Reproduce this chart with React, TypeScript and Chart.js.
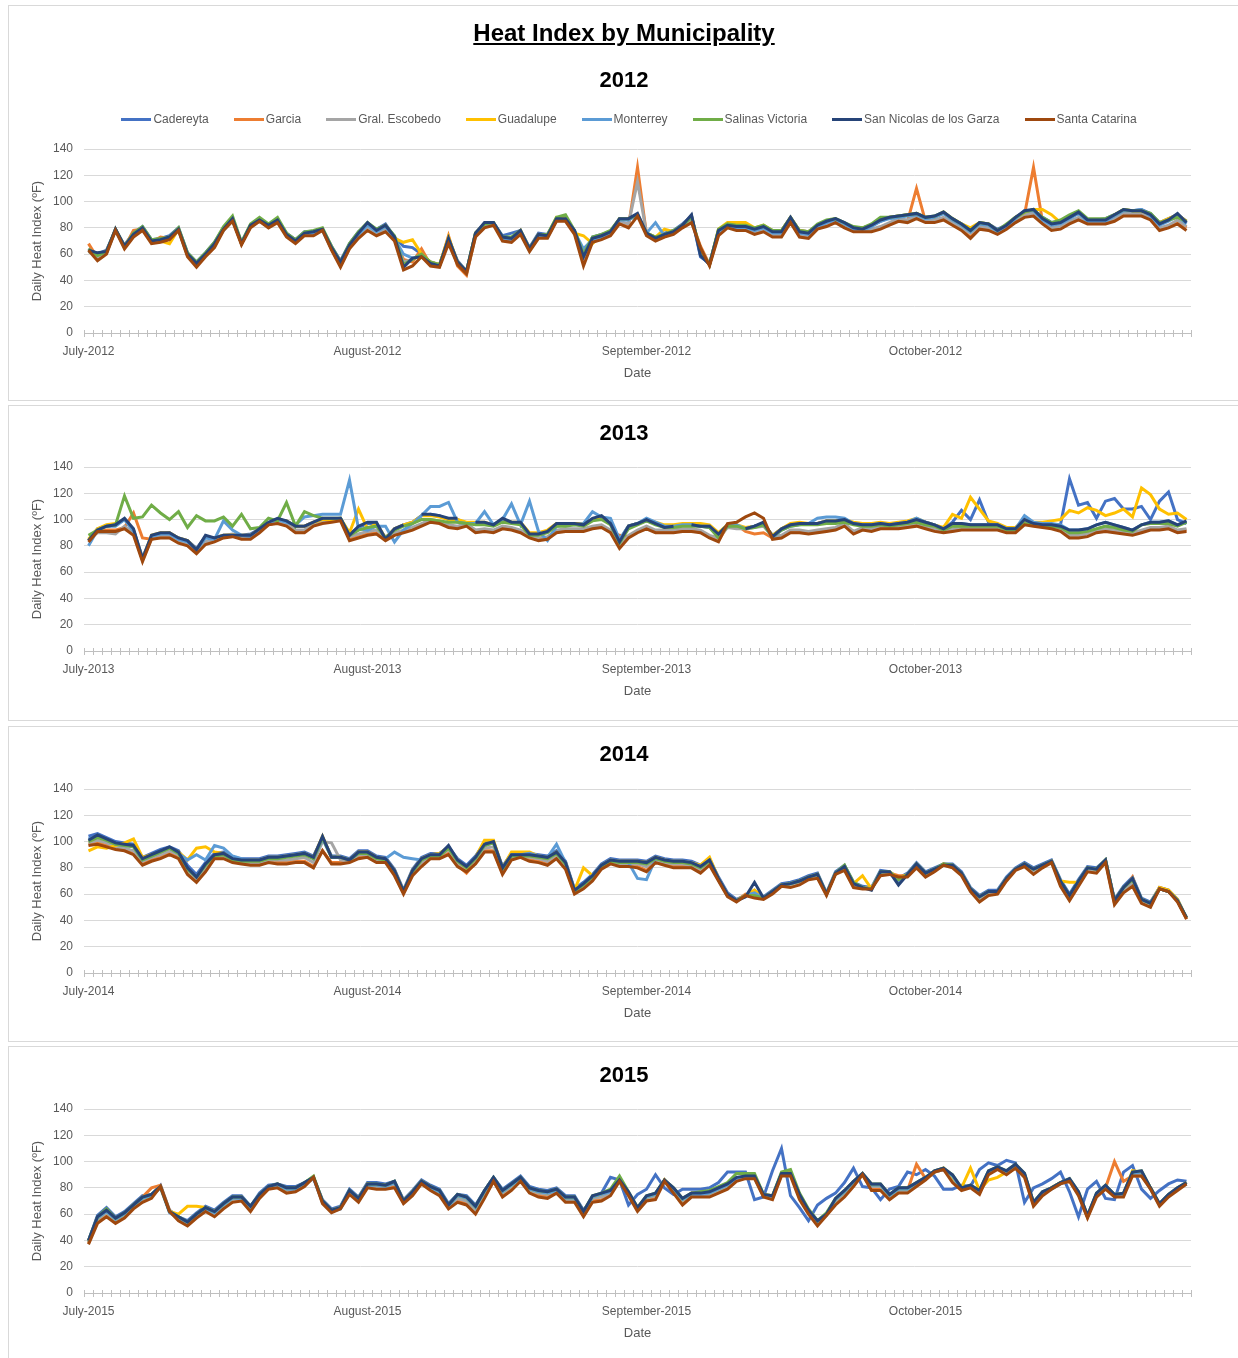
import React, { useEffect, useRef } from "react";
import { Chart, registerables } from "chart.js";

Chart.register(...registerables);

const FONT = "'Liberation Sans', Arial, sans-serif";
const TEXT_GRAY = "#595959";

const SERIES_NAMES = [
  "Cadereyta",
  "Garcia",
  "Gral. Escobedo",
  "Guadalupe",
  "Monterrey",
  "Salinas Victoria",
  "San Nicolas de los Garza",
  "Santa Catarina",
];
const SERIES_COLORS = ["#4472C4", "#ED7D31", "#A5A5A5", "#FFC000", "#5B9BD5", "#70AD47", "#264478", "#9E480E"];

const MONTHS = ["July", "August", "September", "October"];
const MONTH_DAYS = [31, 31, 30, 31];
const YEARS = [2012, 2013, 2014, 2015];
const Y_TICKS = { min: 0, max: 140, step: 20 };

// ---------- 2012 ----------
const CAD_2012 = [64,60,63,78,67,76,81,71,72,74, 80,61,54,61,69,80,87,69,82,86, 82,86,76,71,77,77,79,66,55,68, 77,83,79,83,73,66,65,60,54,52, 72,55,47,76,83,84,74,76,78,65, 76,75,87,86,78,60,73,75,77,87, 86,90,76,73,76,78,83,89,58,53, 78,83,82,82,80,81,78,78,88,78, 77,82,84,86,83,80,80,82,85,88, 89,90,90,88,88,91,86,83,79,83, 83,79,82,88,92,93,88,84,85,88, 91,86,86,87,90,93,93,94,91,84, 87,90,85];
const GAR_2012 = [68,57,61,79,65,78,79,69,73,72, 79,59,51,59,66,79,86,68,82,86, 81,85,74,69,75,75,79,64,51,65, 73,79,75,78,71,56,54,64,52,51, 74,51,44,74,81,83,71,70,76,63, 73,73,86,86,76,54,70,72,75,84, 81,126,75,71,74,76,81,85,66,52, 75,81,79,79,76,78,74,74,85,74, 73,80,82,85,81,79,78,78,80,83, 86,85,110,85,85,87,83,79,73,80, 79,76,80,85,90,126,85,80,80,84, 87,84,84,84,86,90,90,90,87,79, 81,84,80];
const GRE_2012 = [64,58,61,79,66,75,80,70,71,73, 79,60,52,60,67,79,86,68,81,86, 81,85,74,69,75,76,79,64,52,66, 74,80,76,79,72,54,56,60,53,52, 70,53,46,74,82,83,72,71,77,63, 74,73,86,86,77,56,71,73,76,85, 83,115,76,72,75,77,81,86,64,52, 76,81,80,80,77,79,75,75,86,75, 74,81,83,86,82,79,78,79,81,84, 87,86,89,86,86,88,84,80,76,81, 80,77,81,86,90,91,85,80,81,85, 88,85,85,85,87,91,91,91,88,80, 82,86,81];
const GUA_2012 = [62,60,62,78,66,75,80,70,70,68, 79,60,53,60,68,79,87,68,81,86, 82,85,75,70,76,77,79,65,54,67, 76,83,78,82,72,69,71,60,54,52, 73,54,47,76,83,84,72,72,78,64, 75,74,88,87,76,74,68,74,77,87, 87,90,76,73,79,77,82,89,62,52, 79,84,84,84,80,82,78,78,88,78, 77,82,85,87,83,80,80,82,86,88, 89,90,91,88,88,92,87,83,80,84, 83,78,82,88,92,94,94,90,84,88, 92,86,86,86,90,94,93,93,90,84, 87,90,85];
const MTY_2012 = [62,60,61,78,65,74,79,70,70,72, 78,59,53,59,67,78,86,68,81,85, 81,85,74,70,75,76,78,64,54,66, 75,82,77,81,72,60,57,59,53,51, 71,53,46,75,83,83,72,71,77,63, 74,73,86,86,77,64,71,73,76,86, 86,90,76,84,74,76,81,89,60,52, 77,81,80,80,78,80,76,76,87,76, 75,81,84,86,83,79,78,81,85,87, 88,89,90,87,88,91,86,82,77,83, 82,77,81,87,93,93,86,82,83,87, 91,85,85,85,89,93,93,94,89,82, 85,89,83];
const SAL_2012 = [64,59,62,79,66,76,81,71,72,73, 80,61,54,61,69,81,89,69,83,88, 83,88,76,71,77,78,80,66,54,68, 77,84,79,82,74,52,56,60,54,52, 71,54,47,76,83,84,73,73,78,64, 75,75,88,90,78,60,73,75,78,87, 87,90,76,73,75,78,82,88,63,52, 79,83,82,82,80,82,78,78,88,78, 77,83,86,87,84,81,80,83,88,88, 89,90,91,88,89,92,87,83,78,84, 83,78,83,88,92,94,88,84,86,90, 93,87,87,87,90,94,93,93,91,84, 86,88,85];
const SN_2012 = [63,61,62,79,66,75,80,70,71,73, 79,60,53,60,68,79,87,68,82,86, 82,86,75,70,76,77,79,65,54,67, 76,84,78,82,73,50,57,58,53,51, 72,54,47,76,84,84,73,72,78,64, 75,74,87,87,78,58,72,74,77,87, 87,91,76,72,75,77,82,90,59,52, 78,82,81,81,79,81,77,77,88,77, 76,82,85,87,84,80,79,82,86,88, 89,90,91,88,89,92,87,83,78,84, 83,78,82,88,93,94,87,83,84,88, 92,86,86,86,90,94,93,93,90,83, 86,91,84];
const SC_2012 = [63,55,60,78,64,73,78,68,69,71, 78,58,50,58,65,78,85,67,80,85, 80,84,73,68,74,74,78,63,50,64, 72,78,74,77,70,48,51,58,51,50, 68,52,45,73,80,82,70,69,75,62, 72,72,85,85,75,51,69,71,74,83, 80,89,74,70,73,75,80,84,65,51, 74,80,78,78,75,77,73,73,84,73, 72,79,81,84,80,77,77,77,79,82, 85,84,87,84,84,86,82,78,72,79, 78,75,79,84,88,89,83,78,79,83, 86,83,83,83,85,89,89,89,86,78, 80,83,78];

// ---------- 2013 ----------
const CAD_2013 = [84,93,95,96,100,92,71,87,89,90, 86,84,78,87,86,88,88,88,89,93, 97,100,99,95,95,98,100,100,101,89, 94,97,97,86,93,96,98,103,104,103, 100,100,97,97,97,96,100,98,97,89, 89,91,96,97,97,96,100,102,97,84, 95,97,99,97,94,95,96,96,95,94, 89,96,95,93,95,97,88,93,96,97, 97,97,99,99,100,97,96,96,97,96, 97,98,100,98,96,93,98,107,100,115, 98,96,93,93,100,97,96,96,96,131, 111,113,101,114,116,108,108,110,100,114, 121,100,97];
const GAR_2013 = [84,91,92,92,94,105,86,85,87,87, 83,81,75,82,84,87,88,86,86,91, 96,98,96,91,91,96,98,99,100,85, 87,89,90,85,89,91,93,96,99,98, 95,94,96,91,92,91,94,93,91,87, 85,86,91,92,92,92,94,95,91,88, 87,91,94,91,91,91,92,92,91,87, 84,95,96,91,89,90,86,87,91,91, 90,91,92,93,96,90,93,92,94,94, 94,95,96,94,92,91,92,93,93,93, 93,93,91,91,97,96,95,94,92,88, 88,89,91,92,91,90,89,91,93,93, 94,91,92];
const GRE_2013 = [85,90,90,89,95,90,69,86,88,88, 84,82,76,83,85,88,89,87,87,92, 97,99,97,92,92,97,99,100,101,87, 89,91,92,87,90,92,94,97,100,99, 96,95,97,92,93,92,95,94,92,88, 86,87,92,93,93,93,95,96,92,80, 88,92,95,92,92,92,93,93,92,88, 86,94,93,93,94,95,87,88,92,92, 91,92,93,94,97,91,94,93,95,95, 95,96,97,95,93,92,93,94,94,94, 94,94,92,92,98,97,96,95,93,88, 88,89,92,93,92,91,90,92,94,94, 95,92,93];
const GUA_2013 = [85,93,96,97,100,92,70,88,90,90, 86,84,77,87,86,88,88,88,88,93, 97,100,99,95,95,98,100,100,101,90, 108,93,97,86,93,96,98,103,103,102, 100,100,98,98,98,96,100,98,98,90, 90,92,97,97,97,97,100,102,97,84, 95,97,100,98,96,96,97,97,97,96, 90,96,96,94,95,97,88,93,97,98, 97,97,99,99,100,98,97,97,98,97, 98,99,101,98,96,94,104,101,117,108, 99,97,94,94,100,98,98,99,100,107, 105,109,107,103,105,108,102,124,119,108, 104,105,100];
const MTY_2013 = [80,92,95,95,100,91,70,87,89,89, 85,83,77,86,85,99,92,88,87,92, 97,100,98,96,102,103,104,104,104,130, 93,92,95,95,83,92,97,103,110,110, 113,98,97,97,106,96,100,112,96,114, 91,84,95,96,96,97,106,102,101,85, 95,97,101,98,95,95,96,96,95,95, 88,95,96,93,95,97,86,92,95,96, 97,101,102,102,101,97,96,96,97,96, 97,98,101,98,96,93,97,97,96,96, 96,96,93,93,103,98,97,97,96,92, 92,93,96,98,96,94,92,96,98,98, 99,96,98];
const SAL_2013 = [88,92,95,96,118,101,102,111,105,100, 106,94,103,99,99,102,95,104,93,94, 101,99,113,95,106,103,101,101,101,88, 92,94,95,86,92,95,97,100,100,99, 98,98,97,96,96,95,98,97,96,88, 88,90,95,95,96,95,99,100,96,82, 93,96,99,96,94,94,95,95,95,94, 86,95,95,93,94,96,87,92,95,96, 96,96,97,97,98,96,95,95,96,95, 96,97,98,96,95,92,95,95,95,95, 95,95,92,92,97,96,95,95,94,90, 90,91,93,95,94,92,91,96,97,97, 97,95,98];
const SN_2013 = [84,92,95,96,101,93,70,88,90,90, 86,84,77,88,86,88,88,88,88,93, 98,101,99,95,95,98,101,101,101,88, 95,98,98,85,93,96,null,104,104,103, 101,101,null,98,98,96,101,98,98,89, 89,91,97,97,97,96,101,103,97,83, 95,97,100,97,94,95,null,96,95,95, 89,96,null,93,95,98,87,93,96,97, 97,97,99,99,100,97,96,96,97,96, 97,98,100,98,96,93,97,97,96,96, 96,96,93,93,100,97,96,96,95,92, 92,93,96,98,96,94,92,96,98,98, 99,96,99];
const SC_2013 = [83,91,91,91,93,88,68,85,86,86, 82,80,74,81,83,86,87,85,85,90, 96,97,95,90,90,95,97,98,99,84, 86,88,89,84,88,90,92,95,98,97, 94,93,95,90,91,90,93,92,90,86, 84,85,90,91,91,91,93,94,90,78, 86,90,93,90,90,90,91,91,90,86, 83,97,98,102,105,101,85,86,90,90, 89,90,91,92,95,89,92,91,93,93, 93,94,95,93,91,90,91,92,92,92, 92,92,90,90,96,95,94,93,91,86, 86,87,90,91,90,89,88,90,92,92, 93,90,91];

// ---------- 2014 ----------
const CAD_2014 = [104,106,103,100,99,98,88,91,94,96, 93,82,75,84,91,92,88,87,87,87, 89,89,90,91,92,89,103,89,89,87, 93,93,89,88,79,63,79,88,91,91, 96,87,82,89,99,100,81,91,91,91, 90,89,93,85,64,69,75,83,87,86, 86,86,85,89,87,86,86,85,82,87, 73,61,56,59,61,58,63,68,69,71, 74,76,61,77,82,69,66,65,78,77, 72,76,84,77,80,83,83,77,65,59, 63,63,73,80,84,80,83,86,71,60, 71,81,80,86,56,66,73,57,54,65, 63,56,42];
const GAR_2014 = [98,99,97,95,95,92,83,86,88,91, 88,76,70,78,88,88,85,84,83,83, 85,84,84,85,85,81,93,84,84,85, 88,89,85,85,75,61,75,82,88,88, 91,82,76,84,93,93,76,87,89,86, 85,83,88,80,61,65,71,80,84,82, 82,81,78,85,83,81,81,81,77,83, 71,59,55,60,58,57,61,67,66,68, 72,73,60,76,79,66,65,65,75,76, 74,74,81,74,78,83,81,75,63,55, 60,61,71,79,82,76,81,85,67,56, 67,78,77,85,53,62,73,54,51,65, 63,55,41];
const GRE_2014 = [99,101,99,96,95,93,85,88,90,93, 90,78,71,80,89,89,86,85,84,84, 86,86,86,87,88,84,100,99,86,85, 90,90,86,86,76,61,76,84,89,89, 94,84,79,86,95,96,78,88,89,88, 87,85,90,82,62,66,72,81,85,83, 83,83,81,86,84,83,83,82,79,84, 71,59,55,58,63,57,61,67,67,69, 72,74,60,76,80,67,65,64,76,76, 70,74,82,75,78,82,81,75,63,56, 61,61,71,79,82,77,81,85,68,57, 68,79,78,85,54,63,69,55,52,64, 62,55,42];
const GUA_2014 = [93,96,95,97,99,102,88,90,92,95, 92,86,95,96,92,91,87,86,86,86, 88,88,89,90,91,88,104,88,88,86, 92,92,88,87,78,62,78,87,90,91, 96,86,80,88,101,101,80,92,92,92, 89,88,92,84,63,80,74,82,86,85, 85,85,84,88,86,85,85,84,82,88, 72,60,55,59,63,57,62,67,68,70, 73,75,60,76,81,68,74,64,77,77, 72,75,83,76,79,82,82,76,64,58, 62,62,72,79,83,79,82,85,70,69, 69,80,79,86,55,65,72,56,53,65, 63,56,42];
const MTY_2014 = [102,104,101,98,97,96,86,89,92,95, 91,86,90,86,97,95,89,87,86,86, 88,88,89,90,91,87,102,88,88,86, 91,91,88,87,92,88,87,86,90,90, 96,86,81,88,97,99,80,90,90,91, 89,88,98,84,63,68,74,82,86,85, 84,72,71,87,86,85,85,84,81,86, 72,60,55,59,61,57,62,67,68,70, 73,75,60,76,81,68,65,64,77,77, 70,75,83,76,79,82,82,76,64,58, 62,62,72,79,83,79,82,85,70,59, 70,80,79,86,55,65,72,56,53,64, 62,55,42];
const SAL_2014 = [100,103,101,98,97,96,86,89,92,95, 91,79,73,82,89,90,86,85,85,85, 87,87,88,89,90,87,103,88,88,86, 91,91,87,86,77,62,77,86,89,89, 95,85,80,87,97,99,79,89,89,89, 88,87,91,83,62,67,73,81,85,84, 84,84,83,87,85,84,84,83,80,85, 71,59,55,59,59,57,62,67,68,70, 73,75,60,76,82,69,65,64,77,77, 71,75,83,76,79,83,82,76,64,58, 62,62,72,79,83,79,82,85,70,59, 70,80,79,86,55,65,71,56,53,64, 62,55,42];
const SN_2014 = [101,105,102,99,98,97,87,90,93,96, 92,80,73,83,90,91,87,86,86,86, 88,88,89,90,91,88,104,88,88,86, 92,92,88,87,78,62,78,87,90,90, 97,86,81,88,98,100,80,90,90,90, 89,88,92,84,63,68,74,82,86,85, 85,85,84,88,86,85,85,84,81,86, 72,60,55,58,69,57,62,67,68,70, 73,75,60,76,81,68,65,63,77,77, 67,75,83,76,79,82,82,76,64,58, 62,62,72,79,83,79,82,85,70,59, 70,80,79,86,55,65,72,56,53,64, 62,55,42];
const SC_2014 = [97,98,96,94,93,90,82,85,87,90, 87,75,69,77,87,87,84,83,82,82, 84,83,83,84,84,80,93,83,83,84, 87,88,84,84,74,60,74,81,87,87, 90,81,77,83,92,92,75,86,88,85, 84,82,87,79,60,64,70,79,83,81, 81,80,77,84,82,80,80,80,76,82, 70,58,54,59,57,56,60,66,65,67, 71,72,59,75,78,65,64,64,74,75, 73,73,80,73,77,82,80,74,62,54, 59,60,70,78,81,75,80,84,66,55, 66,77,76,84,52,61,66,53,50,64, 62,54,41];

// ---------- 2015 ----------
const CAD_2015 = [40,59,65,58,62,68,74,75,82,63, 58,55,61,66,63,69,74,74,66,76, 82,83,81,81,84,88,71,64,66,79, 73,84,84,83,85,71,78,86,82,79, 68,75,74,67,78,88,79,84,89,81, 79,78,80,74,74,63,72,76,88,86, 67,75,79,90,80,75,79,79,79,80, 84,92,92,92,71,73,93,110,74,65, 55,67,72,76,84,95,81,80,71,79, 81,92,90,94,89,79,79,82,81,94, 99,97,101,99,69,80,83,87,92,77, 58,79,85,72,71,92,97,79,72,78, 83,86,85];
const GAR_2015 = [38,55,60,55,58,66,73,80,82,63, 56,52,58,63,59,65,70,71,63,73, 80,81,77,78,82,88,69,62,65,76, 70,81,80,80,81,69,75,84,79,75, 65,70,68,61,73,85,74,79,86,77, 75,73,77,70,70,59,70,71,75,86, 75,63,71,72,86,77,68,74,74,74, 77,80,86,88,88,74,72,91,92,72, 61,52,60,68,74,82,90,79,79,72, 77,78,98,87,92,94,86,79,82,76, 91,95,91,95,89,67,75,80,84,86, 75,58,74,80,100,85,89,89,80,67, 74,79,84];
const GRE_2015 = [39,56,61,55,59,66,71,74,81,62, 57,53,59,64,60,66,71,72,64,74, 80,82,78,79,83,88,69,62,65,77, 71,82,81,81,83,69,76,84,80,76, 66,72,70,63,75,87,76,81,87,78, 76,75,78,71,71,60,72,73,76,86, 76,64,72,74,86,78,70,75,75,75, 78,81,87,88,88,74,73,90,90,73, 62,53,60,70,76,83,91,81,81,73, 78,78,83,87,93,95,87,79,81,77, 92,95,92,97,90,68,76,80,84,86, 76,58,75,81,74,75,91,91,80,67, 74,79,84];
const GUA_2015 = [39,57,62,56,60,67,72,74,80,62, 60,66,66,65,62,67,72,73,65,74, 81,82,79,80,83,88,70,63,65,77, 72,83,82,82,84,70,77,85,81,77, 67,74,72,65,77,87,77,82,87,79, 77,76,79,72,72,62,73,75,78,86, 76,65,73,75,86,79,71,76,76,76, 79,82,87,89,89,75,74,91,91,74, 62,54,60,71,77,84,90,82,82,74, 79,79,83,87,92,95,88,80,95,78, 86,88,92,97,90,68,76,80,84,86, 76,58,75,81,75,75,93,92,80,67, 74,80,84];
const MTY_2015 = [39,57,62,56,60,66,72,74,80,61, 57,53,59,64,61,67,72,72,65,74, 80,82,79,79,83,87,69,62,64,77, 71,82,82,81,84,69,76,84,80,77, 66,74,72,65,77,87,77,82,87,79, 77,76,78,72,72,61,73,75,77,85, 76,64,73,75,85,79,71,75,75,76, 79,82,87,88,88,74,73,90,90,74, 62,54,59,71,77,84,90,82,82,74, 79,79,83,87,92,94,89,79,81,77, 92,95,92,97,90,68,76,79,83,86, 76,58,75,81,74,75,91,92,79,67, 74,79,83];
const SAL_2015 = [40,58,64,57,61,67,73,75,81,62, 58,54,60,65,62,68,73,73,66,75, 81,83,80,80,84,89,70,63,65,78, 72,83,83,82,85,70,77,85,81,78, 67,75,73,66,78,88,78,83,88,80, 78,77,79,73,73,62,74,76,79,89, 77,65,74,76,86,80,72,76,77,78, 81,84,91,91,91,75,74,92,94,76, 64,55,61,72,78,85,91,83,83,75, 80,80,84,88,93,95,90,80,82,78, 93,96,93,98,91,69,77,80,84,87, 77,59,76,82,75,76,92,93,80,68, 75,80,84];
const SN_2015 = [40,58,63,57,61,67,73,75,81,62, 58,54,60,65,62,68,73,73,66,75, 81,83,80,80,84,88,70,63,65,78, 72,83,83,82,85,70,77,85,81,78, 67,75,73,66,78,88,78,83,88,80, 78,77,79,73,73,62,74,76,78,86, 77,65,74,76,86,80,72,76,76,77, 80,83,88,89,89,75,74,91,91,75, 63,55,60,72,78,85,91,83,83,75, 80,80,84,88,93,95,90,80,82,78, 93,96,93,98,91,69,77,80,84,87, 77,59,76,82,75,76,92,93,80,68, 75,80,84];
const SC_2015 = [37,53,58,53,57,64,69,72,81,62, 55,51,57,62,58,64,69,70,62,72, 79,80,76,77,81,88,68,61,64,75, 69,80,79,79,80,68,74,83,78,74, 64,69,67,60,72,85,73,78,85,76, 73,72,76,69,69,58,69,70,74,85, 74,62,70,71,85,76,67,73,73,73, 76,79,85,87,87,73,71,89,89,71, 60,51,59,67,73,81,90,78,78,71, 76,76,81,86,92,94,84,78,80,75, 90,94,90,95,88,66,74,79,83,85, 74,57,73,79,73,73,89,89,79,66, 73,78,83];

const YEAR_SERIES = [
  [CAD_2012, GAR_2012, GRE_2012, GUA_2012, MTY_2012, SAL_2012, SN_2012, SC_2012],
  [CAD_2013, GAR_2013, GRE_2013, GUA_2013, MTY_2013, SAL_2013, SN_2013, SC_2013],
  [CAD_2014, GAR_2014, GRE_2014, GUA_2014, MTY_2014, SAL_2014, SN_2014, SC_2014],
  [CAD_2015, GAR_2015, GRE_2015, GUA_2015, MTY_2015, SAL_2015, SN_2015, SC_2015],
];

function dayLabels(year: number): string[] {
  const out: string[] = [];
  MONTHS.forEach((m, mi) => {
    for (let d = 1; d <= MONTH_DAYS[mi]; d++) out.push(`${m} ${d}, ${year}`);
  });
  return out;
}

const tickMarks = {
  id: "tickMarks",
  beforeDatasetsDraw(chart: any) {
    const { ctx, chartArea } = chart;
    const n = chart.data.labels.length;
    const step = (chartArea.right - chartArea.left) / n;
    ctx.save();
    ctx.strokeStyle = "#bfbfbf";
    ctx.lineWidth = 1;
    ctx.beginPath();
    for (let i = 0; i <= n; i++) {
      const x = Math.round(chartArea.left + i * step) + 0.5;
      ctx.moveTo(x, chartArea.bottom - 3);
      ctx.lineTo(x, chartArea.bottom + 4);
    }
    ctx.stroke();
    ctx.restore();
  },
};

type PanelProps = { yearIndex: number; top: number; height: number; padTop: number };

function YearChart({ yearIndex, height, padTop }: { yearIndex: number; height: number; padTop: number }) {
  const ref = useRef<HTMLCanvasElement | null>(null);
  useEffect(() => {
    if (!ref.current) return;
    const year = YEARS[yearIndex];
    const labels = dayLabels(year);
    const series = YEAR_SERIES[yearIndex];
    const chart = new Chart(ref.current, {
      type: "line",
      data: {
        labels,
        datasets: series.map((data, i) => ({
          label: SERIES_NAMES[i],
          data,
          borderColor: SERIES_COLORS[i],
          backgroundColor: SERIES_COLORS[i],
          borderWidth: 3,
          pointRadius: 0,
          tension: 0,
          fill: false,
          order: SERIES_NAMES.length - 1 - i,
        })),
      },
      options: {
        animation: false,
        responsive: false,
        maintainAspectRatio: false,
        events: [],
        layout: { padding: { left: 21, right: 48, top: padTop, bottom: height - padTop - 184 - 48 } },
        plugins: { legend: { display: false }, title: { display: false }, tooltip: { enabled: false } },
        scales: {
          x: {
            type: "category",
            offset: true,
            grid: { display: false },
            border: { display: true, color: "#bfbfbf", width: 1 },
            ticks: {
              autoSkip: false,
              maxRotation: 0,
              minRotation: 0,
              padding: 3,
              color: TEXT_GRAY,
              font: { family: FONT, size: 12 },
              callback: (_v: any, i: number) => (i % 31 === 0 ? `${MONTHS[i / 31]}-${year}` : ""),
            },
            title: { display: true, text: "Date", color: TEXT_GRAY, font: { family: FONT, size: 13 }, padding: 0 },
            afterFit: (s: any) => {
              s.height = 48;
            },
          },
          y: {
            min: Y_TICKS.min,
            max: Y_TICKS.max,
            ticks: { stepSize: Y_TICKS.step, padding: 11, color: TEXT_GRAY, font: { family: FONT, size: 12 } },
            grid: { color: "#d9d9d9", drawTicks: false, lineWidth: 1 },
            border: { display: false },
            title: {
              display: true,
              text: "Daily Heat Index (ºF)",
              color: TEXT_GRAY,
              font: { family: FONT, size: 13 },
              padding: 0,
            },
            afterFit: (s: any) => {
              s.width = 54;
            },
          },
        },
      },
      plugins: [tickMarks],
    } as any);
    return () => chart.destroy();
  }, [yearIndex, height, padTop]);
  return (
    <canvas
      ref={ref}
      width={1230}
      height={height}
      style={{ position: "absolute", left: 0, top: 0, width: 1230, height }}
    />
  );
}

function Panel({ yearIndex, top, height, padTop, children }: PanelProps & { children?: React.ReactNode }) {
  const centerY = [80, 433, 754, 1075][yearIndex];
  return (
    <div
      style={{
        position: "absolute",
        left: 8,
        top,
        width: 1232,
        height,
        boxSizing: "border-box",
        border: "1px solid #d9d9d9",
        background: "#fff",
      }}
    >
      <YearChart yearIndex={yearIndex} height={height - 2} padTop={padTop} />
      <div
        style={{
          position: "absolute",
          left: 0,
          width: 1230,
          top: centerY - (top + 1) - 13,
          height: 26,
          lineHeight: "26px",
          textAlign: "center",
          fontFamily: FONT,
          fontWeight: "bold",
          fontSize: 22,
          color: "#000",
        }}
      >
        {YEARS[yearIndex]}
      </div>
      {children}
    </div>
  );
}

function Legend() {
  return (
    <div
      style={{
        position: "absolute",
        left: 0,
        width: 1230,
        top: 119 - 6 - 8,
        height: 16,
        display: "flex",
        justifyContent: "center",
        alignItems: "center",
        gap: 25,
        paddingLeft: 10,
        boxSizing: "border-box",
        fontFamily: FONT,
        fontSize: 12,
        color: TEXT_GRAY,
      }}
    >
      {SERIES_NAMES.map((name, i) => (
        <div key={name} style={{ display: "flex", alignItems: "center", whiteSpace: "nowrap" }}>
          <span style={{ display: "inline-block", width: 30, height: 3, background: SERIES_COLORS[i], marginRight: 2 }} />
          <span>{name}</span>
        </div>
      ))}
    </div>
  );
}

export default function App() {
  const panels = [
    { top: 5, height: 396, padTop: 143 },
    { top: 405, height: 316, padTop: 61 },
    { top: 726, height: 316, padTop: 62 },
    { top: 1046, height: 316, padTop: 62 },
  ];
  return (
    <div style={{ position: "absolute", left: 0, top: 0, width: 1238, height: 1358, overflow: "hidden", background: "#fff" }}>
      {panels.map((p, i) => (
        <Panel key={i} yearIndex={i} top={p.top} height={p.height} padTop={p.padTop}>
          {i === 0 && (
            <>
              <div
                style={{
                  position: "absolute",
                  left: 0,
                  width: 1230,
                  top: 33 - 6 - 15,
                  height: 30,
                  lineHeight: "30px",
                  textAlign: "center",
                  fontFamily: FONT,
                  fontWeight: "bold",
                  fontSize: 24,
                  color: "#000",
                  textDecoration: "underline",
                }}
              >
                Heat Index by Municipality
              </div>
              <Legend />
            </>
          )}
        </Panel>
      ))}
    </div>
  );
}
